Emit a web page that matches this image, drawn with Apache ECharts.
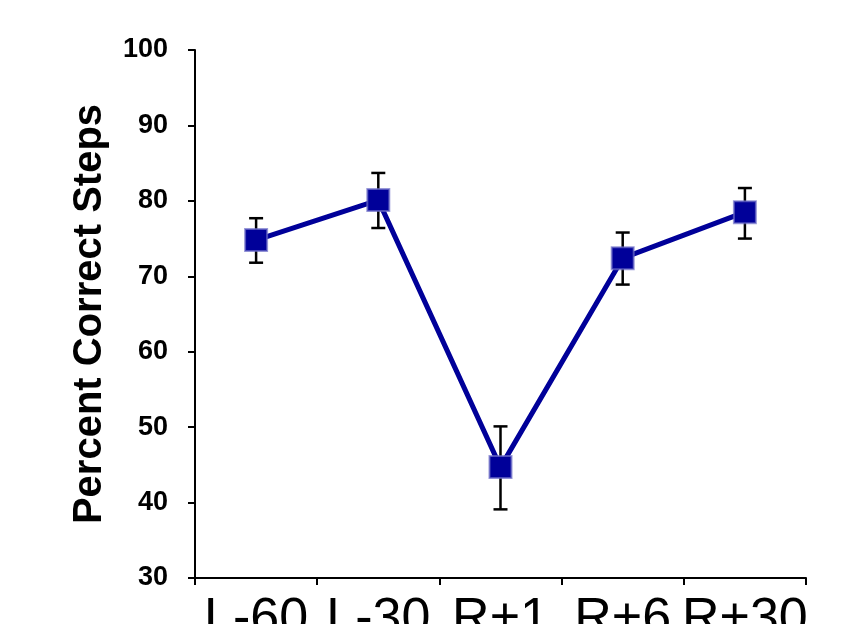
<!DOCTYPE html>
<html>
<head>
<meta charset="utf-8">
<script src="https://cdn.jsdelivr.net/npm/echarts@6/dist/echarts.min.js"></script>
<style>html,body{margin:0;padding:0;background:#fff}#c{width:856px;height:624px}</style>
</head>
<body>
<div id="c"></div>
<script>
var categories = ['L-60', 'L-30', 'R+1', 'R+6', 'R+30'];
var meanValues = [74.8, 80.1, 44.7, 72.4, 78.5];
var errLow = [71.8, 76.4, 39.1, 68.9, 75.0];
var errHigh = [77.7, 83.7, 50.1, 75.8, 81.7];
var yTicks = [30, 40, 50, 60, 70, 80, 90, 100];

var chart = echarts.init(document.getElementById('c'), null, {renderer: 'canvas'});
var errData = categories.map(function (c, i) { return [i, errLow[i], errHigh[i]]; });

chart.setOption({
  animation: false,
  backgroundColor: '#ffffff',
  grid: {left: 195, right: 50, top: 50, bottom: 46, containLabel: false, outerBoundsMode: 'none'},
  xAxis: {
    type: 'category',
    data: categories,
    boundaryGap: true,
    axisLine: {lineStyle: {color: '#000', width: 2}},
    axisTick: {show: true, length: 7, inside: false, lineStyle: {color: '#000', width: 2}},
    axisLabel: {interval: 0, margin: 16, hideOverlap: false, fontFamily: 'Liberation Sans, Arial, sans-serif', fontSize: 52, color: '#000'}
  },
  yAxis: {
    type: 'value',
    min: yTicks[0],
    max: yTicks[yTicks.length - 1],
    interval: 10,
    name: 'Percent Correct Steps',
    nameLocation: 'middle',
    nameGap: 85,
    nameTextStyle: {fontFamily: 'Liberation Sans, Arial, sans-serif', fontSize: 40, fontWeight: 'bold', color: '#000'},
    axisLine: {show: true, lineStyle: {color: '#000', width: 2}},
    axisTick: {show: true, length: 7, inside: false, lineStyle: {color: '#000', width: 2}},
    splitLine: {show: false},
    axisLabel: {margin: 27, fontFamily: 'Liberation Sans, Arial, sans-serif', fontSize: 27, fontWeight: 'bold', color: '#000'}
  },
  series: [
    {
      type: 'custom',
      z: 1,
      data: errData,
      renderItem: function (params, api) {
        var x = api.value(0);
        var lo = api.coord([x, api.value(1)]);
        var hi = api.coord([x, api.value(2)]);
        var hw = 7;
        var st = {stroke: '#000', lineWidth: 2.5};
        return {
          type: 'group',
          children: [
            {type: 'line', shape: {x1: lo[0], y1: lo[1], x2: hi[0], y2: hi[1]}, style: st},
            {type: 'line', shape: {x1: lo[0] - hw, y1: lo[1], x2: lo[0] + hw, y2: lo[1]}, style: st},
            {type: 'line', shape: {x1: hi[0] - hw, y1: hi[1], x2: hi[0] + hw, y2: hi[1]}, style: st}
          ]
        };
      }
    },
    {
      type: 'line',
      z: 3,
      data: meanValues,
      symbol: 'rect',
      symbolSize: 22,
      lineStyle: {color: '#000099', width: 5},
      itemStyle: {color: '#000099', borderColor: 'rgba(110,110,200,0.7)', borderWidth: 2},
      emphasis: {disabled: true}
    }
  ]
});
</script>
</body>
</html>
